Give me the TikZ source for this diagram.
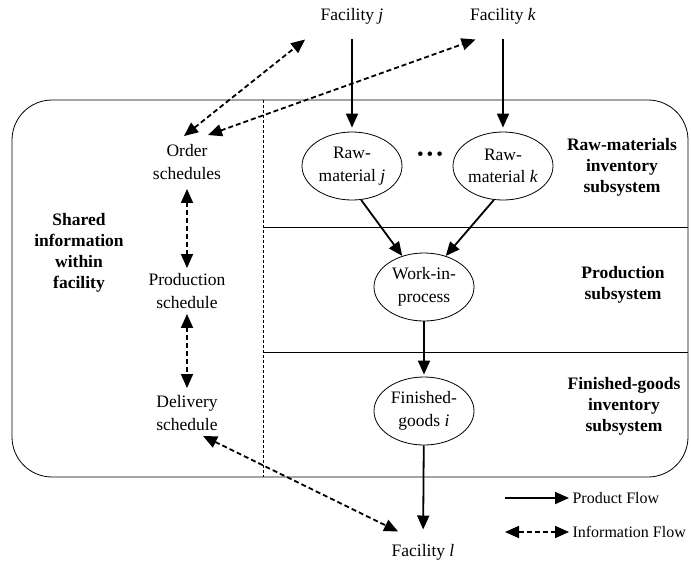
\documentclass[tikz,border=0pt]{standalone}
\usepackage{fontspec}
\setmainfont{Liberation Serif}
\usetikzlibrary{arrows.meta,positioning,shapes}

\begin{document}
\begin{tikzpicture}[x=1pt,y=-1pt,
    txt/.style={align=center,font=\fontsize{17.5}{22.5}\selectfont},
    bold/.style={align=center,font=\fontsize{17.5}{21}\selectfont\bfseries},
    store/.style={txt,draw,ellipse,line width=0.8pt,minimum width=100pt,minimum height=68pt,inner sep=0pt},
    prod/.style={-{Triangle[length=14pt,width=12pt]},line width=1.8pt},
    info/.style={{Triangle[length=14pt,width=12pt]}-{Triangle[length=14pt,width=12pt]},line width=1.8pt,dash pattern=on 5pt off 3pt},
    legend/.style={anchor=west,font=\fontsize{16}{19}\selectfont}]
        \useasboundingbox (0,0) rectangle (691,560);

        % facilities outside
        \node[txt] (facj) at (352,16) {Facility \textit{j}};
        \node[txt] (fack) at (503,16) {Facility \textit{k}};
        \node[txt] (facl) at (423,552) {Facility \textit{l}};

        % inventories and production
        \node[store] (rawj) at (352,166) {Raw-\\material \textit{j}};
        \node[store] (rawk) at (503,166) {Raw-\\material \textit{k}};
        \node[font=\fontsize{19}{21}\selectfont] (dots) at (430,156) {\textbullet\hspace{3pt}\textbullet\hspace{3pt}\textbullet};
        \node[store] (wip) at (424,287) {Work-in-\\process};
        \node[store] (fin) at (424,411) {Finished-\\goods \textit{i}};

        % shared information
        \node[txt] (order) at (187,162) {Order\\schedules};
        \node[txt] (prodsch) at (187,291) {Production\\schedule};
        \node[txt] (deliv) at (187,413) {Delivery\\schedule};
        \node[bold] (shared) at (79,253) {Shared\\information\\within\\facility};

        % subsystems
        \node[bold] (rawsub) at (622,167) {Raw-materials\\inventory\\subsystem};
        \node[bold] (prodsub) at (623,285) {Production\\subsystem};
        \node[bold] (finsub) at (624,406) {Finished-goods\\inventory\\subsystem};

        \draw[line width=0.8pt,rounded corners=40pt] (12,100) rectangle (688,477);
        \draw[line width=0.8pt,dash pattern=on 3pt off 2pt] (263,100) -- (263,477);
        \draw[line width=0.8pt] (263,227) -- (688,227);
        \draw[line width=0.8pt] (263,352) -- (688,352);

        \draw[prod,shorten <=12pt,shorten >=4pt] (facj) -- (rawj);
        \draw[prod,shorten <=12pt,shorten >=4pt] (fack) -- (rawk);
        \draw[prod] (rawj.-75) -- (wip.125);
        \draw[prod] (rawk.-105) -- (wip.55);
        \draw[prod,shorten >=2pt] (wip) -- (fin);
        \draw[prod,shorten >=11pt] (fin) -- (facl);

        \draw[info] ([xshift=-3pt,yshift=5pt]order.north) -- ([xshift=-12pt,yshift=-12pt]facj.south west);
        \draw[info] ([xshift=21pt,yshift=6pt]order.north) -- ([xshift=9pt,yshift=-12pt]fack.south west);
        \draw[info,shorten <=6pt,shorten >=2pt] (order) -- (prodsch);
        \draw[info,shorten <=2pt,shorten >=4pt] (prodsch) -- (deliv);
        \draw[info] ([xshift=16pt,yshift=-2pt]deliv.south) -- ([xshift=10pt,yshift=9pt]facl.north west);

        % legend
        \coordinate (lp) at (505,498);
        \node[legend] (lprod) at (569,498) {Product Flow};
        \draw[prod] (lp) -- (lprod.west);
        \coordinate (li) at (505,532);
        \node[legend] (linfo) at (569,532) {Information Flow};
        \draw[info] (li) -- (linfo.west);
      \end{tikzpicture}
\end{document}
